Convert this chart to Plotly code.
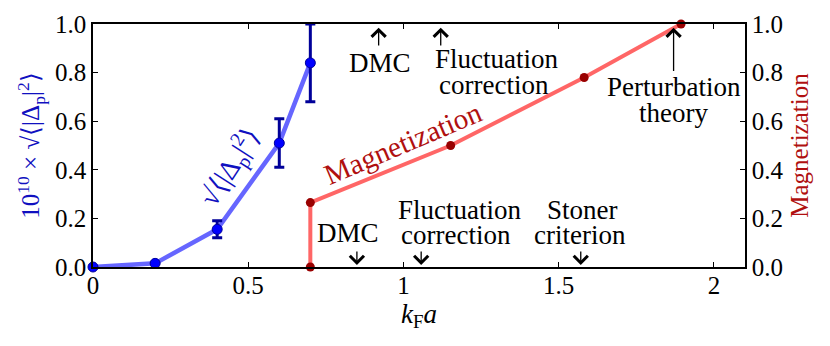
import plotly.graph_objects as go

# pairing amplitude (left axis)
kfa_pair = [0.0, 0.2, 0.4, 0.6, 0.7]
pair_amp = [0.0, 0.015, 0.155, 0.51, 0.84]
pair_err = [0.0, 0.0, 0.035, 0.10, 0.16]

# magnetization (right axis)
kfa_mag = [0.7, 0.7, 1.152, 1.582, 1.894]
magnet = [0.0, 0.265, 0.50, 0.78, 1.0]

x_ticks = [0, 0.5, 1, 1.5, 2]
x_ticklabels = ["0", "0.5", "1", "1.5", "2"]
y_ticks = [0.0, 0.2, 0.4, 0.6, 0.8, 1.0]
y_ticklabels = ["0.0", "0.2", "0.4", "0.6", "0.8", "1.0"]

FONT = "Liberation Serif, serif"
BLUE_LINE = "rgba(0,0,255,0.6)"
BLUE_DARK = "#000099"
RED_LINE = "rgba(255,0,0,0.6)"
RED_DARK = "#990000"

fig = go.Figure()

fig.add_trace(go.Scatter(
    x=kfa_pair, y=pair_amp, mode="lines",
    line=dict(color=BLUE_LINE, width=4.5),
    showlegend=False, hoverinfo="skip",
))
fig.add_trace(go.Scatter(
    x=kfa_pair, y=pair_amp, mode="markers",
    marker=dict(color="#0000ff", size=10, line=dict(color=BLUE_DARK, width=1)),
    error_y=dict(type="data", array=pair_err, color=BLUE_DARK, thickness=3, width=5),
    showlegend=False, cliponaxis=False,
))

fig.add_trace(go.Scatter(
    x=kfa_mag, y=magnet, mode="lines+markers", yaxis="y2",
    line=dict(color=RED_LINE, width=4),
    marker=dict(color=RED_DARK, size=9),
    showlegend=False, cliponaxis=False,
))

annotations = []

def label(text, x, y, size=27, color="black", angle=0):
    annotations.append(dict(
        x=x, y=y, xref="x", yref="y", text=text, showarrow=False,
        font=dict(family=FONT, size=size, color=color), textangle=angle,
    ))

def arrow(x, y_head, y_tail):
    annotations.append(dict(
        x=x, y=y_head, ax=x, ay=y_tail, xref="x", yref="y", axref="x", ayref="y",
        text="", showarrow=True, arrowhead=4, arrowsize=2.1, arrowwidth=1.3,
        arrowcolor="black",
    ))

# top annotations
label("DMC", 0.923, 0.84)
arrow(0.92, 0.985, 0.905)
label("Fluctuation", 1.30, 0.855)
label("correction", 1.29, 0.75)
arrow(1.12, 0.985, 0.905)
label("Perturbation", 1.87, 0.74)
label("theory", 1.87, 0.635)
arrow(1.87, 0.985, 0.80)

# bottom annotations
label("DMC", 0.82, 0.14)
arrow(0.85, 0.008, 0.07)
label("Fluctuation", 1.18, 0.235)
label("correction", 1.17, 0.13)
arrow(1.057, 0.008, 0.07)
label("Stoner", 1.577, 0.235)
label("criterion", 1.57, 0.13)
arrow(1.571, 0.008, 0.07)

# curve labels
label("√⟨|Δ<sub>p</sub>|<sup>2</sup>⟩", 0.44, 0.41, size=28, color="#1010c0", angle=-57)
label("Magnetization", 1.0, 0.51, size=29, color="#b01010", angle=-23)

# the page body adds an 8px offset, so margins are shifted to compensate
fig.update_layout(
    width=830, height=346,
    margin=dict(l=85, r=93, t=16, b=87),
    plot_bgcolor="white", paper_bgcolor="white",
    font=dict(family=FONT, size=25, color="black"),
    annotations=annotations,
    xaxis=dict(
        range=[0, 2.1], tickvals=x_ticks, ticktext=x_ticklabels,
        ticks="inside", ticklen=5, tickcolor="black", ticklabelstandoff=-5,
        showline=True, linecolor="black", linewidth=1.5, mirror="ticks",
        showgrid=False, zeroline=False, automargin=False,
        title=dict(text="<i>k</i><sub>F</sub><i>a</i>", standoff=0,
                   font=dict(size=27)),
    ),
    yaxis=dict(
        range=[0, 1.0], tickvals=y_ticks, ticktext=y_ticklabels,
        ticks="inside", ticklen=5, tickcolor="black",
        showline=True, linecolor="black", linewidth=1.5,
        showgrid=False, zeroline=False, automargin=False,
        title=dict(text="10<sup>10</sup> × √⟨|Δ<sub>p</sub>|<sup>2</sup>⟩",
                   font=dict(size=25, color="#1010c0"), standoff=8),
    ),
    yaxis2=dict(
        range=[0, 1.0], tickvals=y_ticks, ticktext=y_ticklabels,
        overlaying="y", side="right",
        ticks="inside", ticklen=5, tickcolor="black",
        showline=True, linecolor="black", linewidth=1.5,
        showgrid=False, zeroline=False, automargin=False,
        title=dict(text="Magnetization", font=dict(size=25, color="#b01010"),
                   standoff=8),
    ),
)

fig.write_html("out.html")
